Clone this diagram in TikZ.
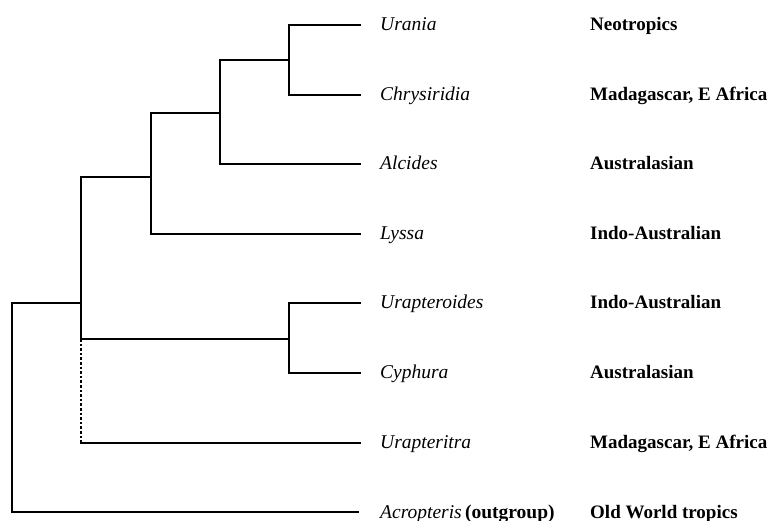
\documentclass[tikz,border=0pt]{standalone}
\usepackage{fontspec}
\setmainfont{Liberation Serif}
\usetikzlibrary{calc}
\tikzstyle{TaxonNode}=[anchor=base west, inner sep=0pt, font=\fontsize{19.5}{22}\selectfont\itshape]
\tikzstyle{RangeNode}=[anchor=base west, inner sep=0pt, font=\fontsize{19}{22}\selectfont\bfseries]
\tikzstyle{Branch}=[line width=1.4pt, line cap=rect]
\tikzstyle{UncertainBranch}=[line width=1.4pt, dash pattern=on 2.6pt off 2pt]

\begin{document}
\begin{tikzpicture}[x=1pt, y=-1pt]
\useasboundingbox (0,0) rectangle (769,521);
% tips
\coordinate (tUra) at (360,25);
\coordinate (tChr) at (360,95);
\coordinate (tAlc) at (360,164);
\coordinate (tLys) at (360,234);
\coordinate (tUrd) at (360,303);
\coordinate (tCyp) at (360,373);
\coordinate (tUrt) at (360,443);
\coordinate (tAcr) at (358,512);
% internal nodes
\coordinate (N1) at (289,60);
\coordinate (N2) at (220,113);
\coordinate (N3) at (151,177);
\coordinate (N4) at (81,303);
\coordinate (N5) at (289,339);
\coordinate (R) at (12,408);

\node[TaxonNode](Ura) at (380,31) {Urania};
\node[TaxonNode](Chr) at (380,101) {Chrysiridia};
\node[TaxonNode](Alc) at (380,170) {Alcides};
\node[TaxonNode](Lys) at (380,240) {Lyssa};
\node[TaxonNode](Urd) at (380,309) {Urapteroides};
\node[TaxonNode](Cyp) at (380,379) {Cyphura};
\node[TaxonNode](Urt) at (380,449) {Urapteritra};
\node[TaxonNode](Acr) at (380,518) {Acropteris\,\upshape\bfseries(outgroup)};

\node[RangeNode](rUra) at (590,31) {Neotropics};
\node[RangeNode](rChr) at (590,101) {Madagascar, E Africa};
\node[RangeNode](rAlc) at (590,170) {Australasian};
\node[RangeNode](rLys) at (590,240) {Indo-Australian};
\node[RangeNode](rUrd) at (590,309) {Indo-Australian};
\node[RangeNode](rCyp) at (590,379) {Australasian};
\node[RangeNode](rUrt) at (590,449) {Madagascar, E Africa};
\node[RangeNode](rAcr) at (590,518) {Old World tropics};

\draw[Branch](tUra) -| (N1) |- (tChr);
\draw[Branch](N1) -| (N2) |- (tAlc);
\draw[Branch](N2) -| (N3) |- (tLys);
\draw[Branch](tUrd) -| (N5) |- (tCyp);
\draw[Branch](N3) -| (N4) |- (N5);
\draw[UncertainBranch](N4 |- N5) -- (N4 |- tUrt);
\draw[Branch](N4 |- tUrt) -- (tUrt);
\draw[Branch](N4) -| (R) |- (tAcr);
\end{tikzpicture}
\end{document}
